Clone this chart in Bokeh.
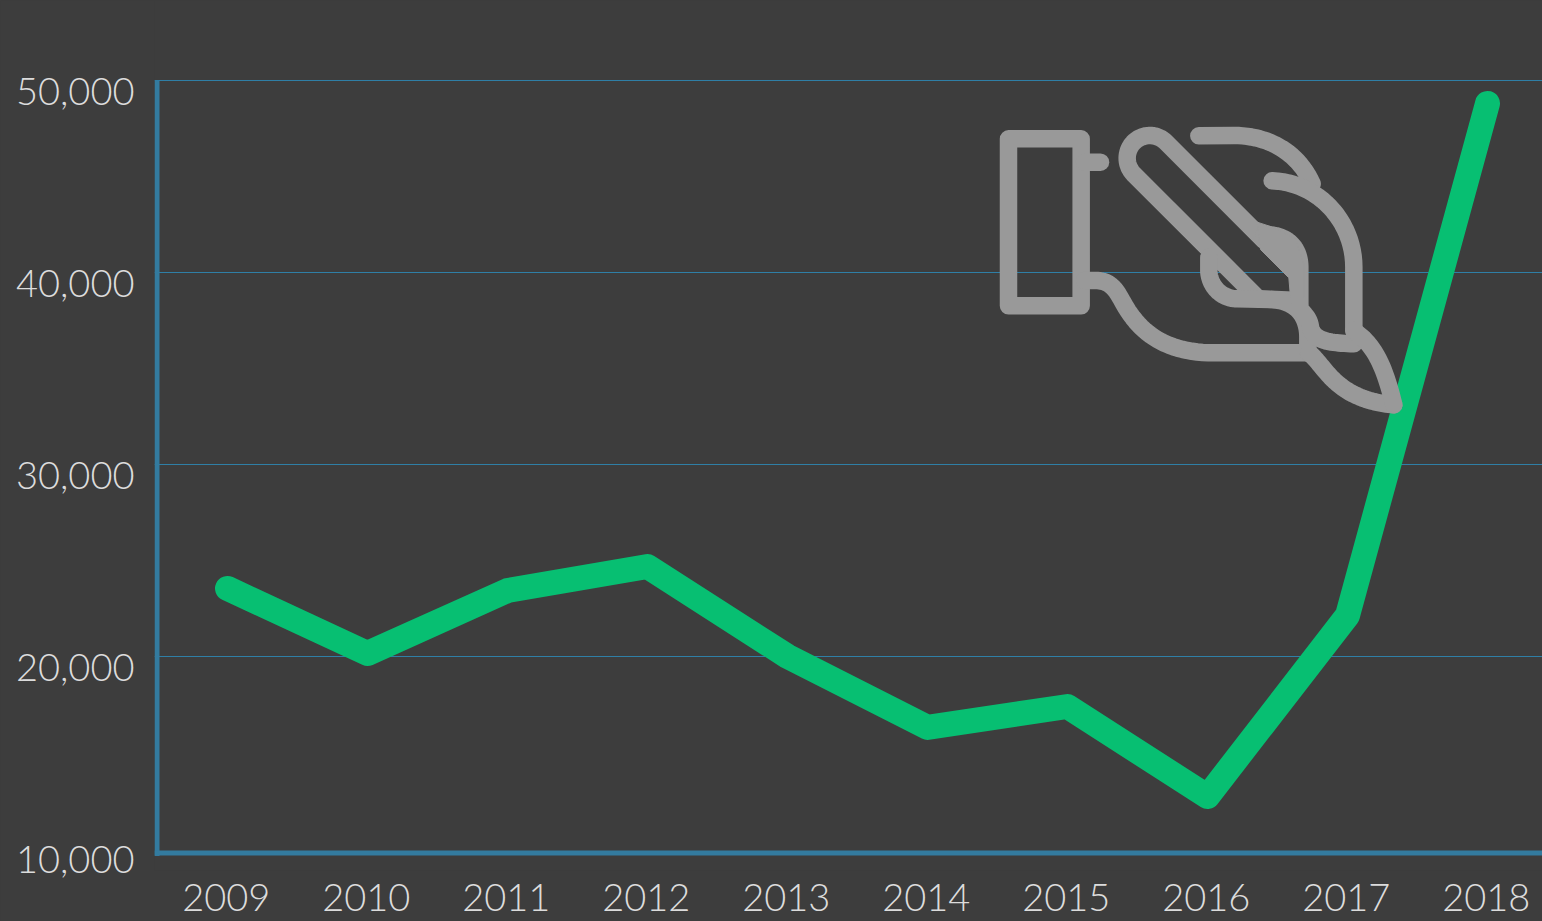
import numpy as np
from bokeh.plotting import figure
from bokeh.embed import file_html
from bokeh.resources import INLINE
from bokeh.models import Range1d, LinearAxis, FixedTicker, Grid, NumeralTickFormatter

years = [2009, 2010, 2011, 2012, 2013, 2014, 2015, 2016, 2017, 2018]
values = [23520, 20130, 23410, 24660, 19980, 16280, 17370, 12680, 22110, 48780]
y_ticks = [10000, 20000, 30000, 40000, 50000]
grid_ticks = [20000, 30000, 40000, 50000]

BG = "#3d3d3d"
BLUE = "#2f7fa6"
AXIS = "#337b9f"
GREEN = "#07bf72"
GREY = "#999999"
TXT = "#dcdcdc"
FONT = "Lato Light"

W, H = 1542, 921
LEFT, FRAME_B = 154, 870
PX_PER_YEAR = 140.0
X0_PX = 227.0
PX_PER_UNIT = 192.0 / 10000
Y10K_PX = 847.5

def xv(px):
    return years[0] + (px - X0_PX) / PX_PER_YEAR

def yv(px):
    return 10000 + (Y10K_PX - px) / PX_PER_UNIT

p = figure(width=W, height=H, output_backend="svg", toolbar_location=None,
           x_range=Range1d(xv(LEFT), xv(W)), y_range=Range1d(yv(FRAME_B), yv(0)),
           x_axis_location=None, y_axis_location=None,
           min_border_left=LEFT, min_border_right=0, min_border_top=0,
           min_border_bottom=H - FRAME_B,
           background_fill_color=BG, border_fill_color=BG, outline_line_color=None)
p.grid.visible = False

# labels sit off their gridlines / points: second ranges shifted by that much
shift = 11 / PX_PER_UNIT
p.extra_y_ranges["lab"] = Range1d(yv(FRAME_B) + shift, yv(0) + shift)
xshift = 1.2 / PX_PER_YEAR
p.extra_x_ranges["lab"] = Range1d(xv(LEFT) + xshift, xv(W) + xshift)
ya = LinearAxis(y_range_name="lab", ticker=FixedTicker(ticks=y_ticks),
                formatter=NumeralTickFormatter(format="0,0"),
                axis_line_color=None, major_tick_line_color=None, minor_tick_line_color=None,
                major_label_text_color=TXT, major_label_text_font=FONT,
                major_label_text_font_size="38px", major_label_standoff=14)
p.add_layout(ya, "left")

xa = LinearAxis(x_range_name="lab", ticker=FixedTicker(ticks=years), axis_line_color=None,
                major_tick_line_color=None, minor_tick_line_color=None,
                major_label_text_color=TXT, major_label_text_font=FONT,
                major_label_text_font_size="38px", major_label_standoff=7,
                major_label_overrides={y: str(y) for y in years})
p.add_layout(xa, "below")

p.add_layout(Grid(dimension=1, ticker=FixedTicker(ticks=grid_ticks),
                  grid_line_color=BLUE, grid_line_width=1))

# axis rules
p.segment([xv(156.5)], [yv(80)], [xv(156.5)], [yv(855.5)], line_color=AXIS, line_width=5)
p.segment([xv(154)], [yv(852.6)], [xv(W)], [yv(852.6)], line_color=AXIS, line_width=5)

p.line(years, values, line_color=GREEN, line_width=25, line_join="round", line_cap="round")

# icon, drawn in its own coordinate space
p.extra_x_ranges["ix"] = Range1d((LEFT - 980) * 3, (W - 980) * 3)
p.extra_y_ranges["iy"] = Range1d((FRAME_B - 110) * 3, (0 - 110) * 3)

def bez(start, *segs, n=24):
    """Straight segment for a 1-point item, cubic Bezier for a 3-point item."""
    out = [np.array(start, float)]
    cur = np.array(start, float)
    for s in segs:
        if len(s) == 1:
            cur = np.array(s[0], float)
            out.append(cur)
        else:
            c1, c2, e = (np.array(q, float) for q in s)
            for t in np.linspace(0, 1, n + 1)[1:]:
                out.append((1 - t)**3 * cur + 3 * (1 - t)**2 * t * c1 + 3 * (1 - t) * t**2 * c2 + t**3 * e)
            cur = e
    return np.array(out)

def arc(cx, cy, r, a0, a1, n=40):
    t = np.radians(np.linspace(a0, a1, n))
    return np.column_stack([cx + r * np.cos(t), cy + r * np.sin(t)])

cap = arc(508, 143, 68, 135, 315)   # rounded end of the pen, screen-down y
barrel = np.vstack([[[834, 565]], cap, [[851, 390]]])

strokes = [
    bez((84, 85), [(302, 85)], [(302, 586)], [(84, 586)], [(84, 85)]),
    bez((312, 155), [(360, 155)]),
    barrel,
    bez((312, 510), [(345, 510)], [(395, 510), (410, 545), (430, 580)],
        [(480, 670), (560, 727), (700, 727)], [(985, 727)]),
    bez((834, 565), [(955, 570)]),
    bez((685, 440), [(685, 485)], [(690, 535), (730, 565), (770, 565)], [(870, 567)],
        [(950, 570), (982, 620), (982, 680)], [(982, 727)]),
    bez((851, 372), [(930, 372), (958, 420), (958, 470)], [(958, 580)],
        [(958, 610), (985, 610), (990, 650)], [(1000, 690), (1040, 697), (1120, 700)]),
    bez((655, 76), [(760, 75)], [(870, 75), (955, 130), (995, 220)]),
    bez((875, 211), [(1010, 215), (1120, 330), (1120, 470)], [(1120, 660)]),
    bez((985, 727), [(1010, 745), (1035, 790), (1075, 822)], [(1120, 860), (1180, 878), (1240, 883)]),
    bez((1120, 660), [(1150, 685)], [(1190, 725), (1215, 780), (1240, 883)]),
]
p.multi_line([s[:, 0].tolist() for s in strokes], [s[:, 1].tolist() for s in strokes],
             x_range_name="ix", y_range_name="iy", line_color=GREY, line_width=17.5,
             line_join="round", line_cap="round")
p.patch([830, 870, 945, 970, 970, 930, 925, 840], [335, 348, 385, 460, 560, 560, 502, 417],
        x_range_name="ix", y_range_name="iy", fill_color=GREY, line_color=GREY)

html = file_html(p, INLINE)
html = html.replace("</head>", "<style>html,body{margin:0;padding:0;background:#3d3d3d;overflow:hidden}</style></head>", 1)
open("out.html", "w").write(html)
